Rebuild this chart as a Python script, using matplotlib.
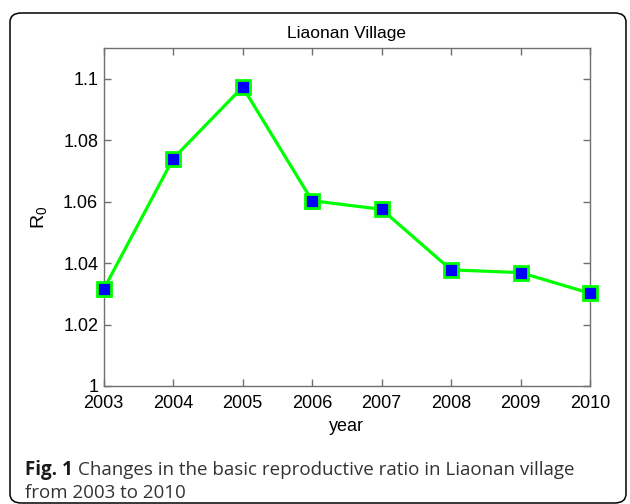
import matplotlib
matplotlib.use("Agg")
import matplotlib.pyplot as plt
from matplotlib.patches import FancyBboxPatch

years = [2003, 2004, 2005, 2006, 2007, 2008, 2009, 2010]
r0 = [1.0315, 1.074, 1.0973, 1.0603, 1.0575, 1.0378, 1.0369, 1.0302]
yticks = [1.0, 1.02, 1.04, 1.06, 1.08, 1.1]
ytick_labels = ["1", "1.02", "1.04", "1.06", "1.08", "1.1"]

W, H = 630, 504
fig = plt.figure(figsize=(W / 100, H / 100), dpi=100)
fig.patch.set_facecolor("white")

def fx(px):
    return px / W
def fy(py):
    return 1 - py / H

frame = FancyBboxPatch((fx(10), fy(503)), fx(626) - fx(10), fy(13) - fy(503),
                       boxstyle="round,pad=0,rounding_size=0.018",
                       transform=fig.transFigure, fill=False,
                       edgecolor="black", linewidth=1.1, clip_on=False)
fig.patches.append(frame)

ax = fig.add_axes([fx(103.7), fy(386), fx(590) - fx(103.7), fy(48) - fy(386)])
ax.plot(years, r0, color="#00ff00", linewidth=2.3, marker="s",
        markersize=9.5, markerfacecolor="#0000ff", markeredgecolor="#00ff00",
        markeredgewidth=2.0, clip_on=False, zorder=3)

ax.set_xlim(2003, 2010)
ax.set_ylim(1.0, 1.11)
ax.set_xticks(years)
ax.set_xticklabels([str(y) for y in years])
ax.set_yticks(yticks)
ax.set_yticklabels(ytick_labels)

sans = ["Liberation Sans", "DejaVu Sans"]
for lbl in ax.get_xticklabels() + ax.get_yticklabels():
    lbl.set_fontfamily(sans)
    lbl.set_fontsize(13)

spine_color = "#707070"
for s in ax.spines.values():
    s.set_color(spine_color)
    s.set_linewidth(1.0)
ax.tick_params(direction="in", top=True, right=True, length=5, width=1.0,
               color=spine_color, labelcolor="black")
ax.tick_params(axis="x", pad=6.5)
ax.tick_params(axis="y", pad=4)

ax.set_title("Liaonan Village", fontsize=12.5, family=sans, pad=7)
ax.set_xlabel("year", fontsize=13, family=sans, labelpad=4)
ax.set_ylabel(r"$\mathregular{R_0}$", fontsize=14, family=sans, labelpad=10)

cap_family = ["Open Sans", "DejaVu Sans"]
cap_size = 13.5
t1 = fig.text(fx(25), fy(475), "Fig. 1", fontsize=cap_size, fontweight="bold",
              family=cap_family, color="#1a1a1a", va="baseline", ha="left")
fig.canvas.draw()
bb = t1.get_window_extent()
fig.text((bb.x1 + 5) / W, fy(475),
         "Changes in the basic reproductive ratio in Liaonan village",
         fontsize=cap_size, family=cap_family, color="#333333", va="baseline", ha="left")
fig.text(fx(25), fy(498), "from 2003 to 2010", fontsize=cap_size, family=cap_family,
         color="#333333", va="baseline", ha="left")

fig.savefig("out.png", dpi=100, facecolor="white")
